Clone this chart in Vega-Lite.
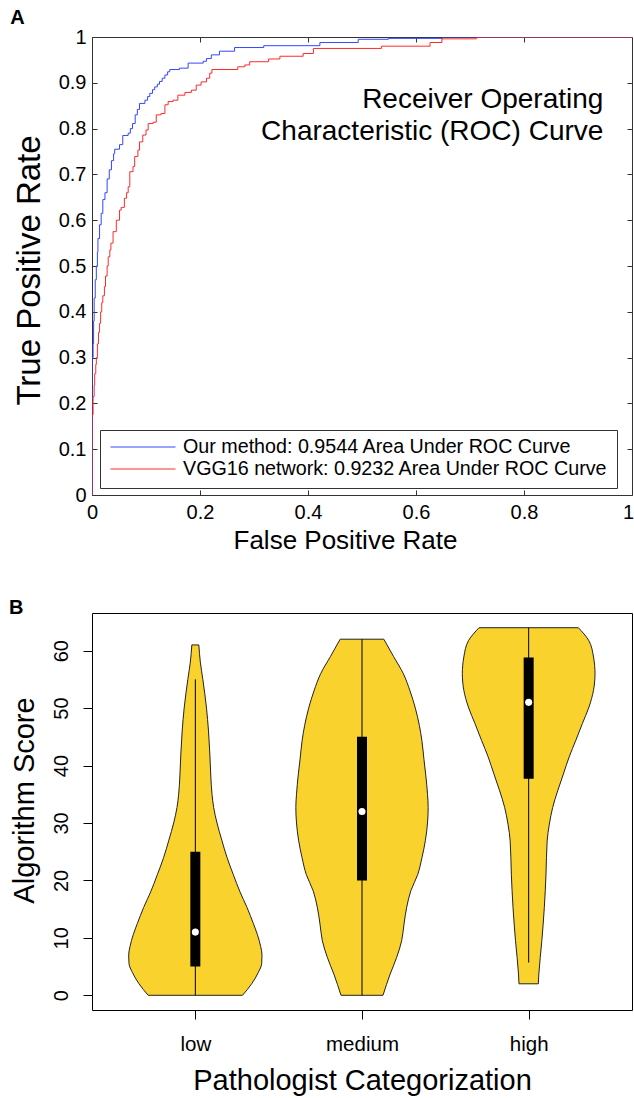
{
  "$schema": "https://vega.github.io/schema/vega-lite/v6.json",
  "autosize": {"type": "pad"},
  "padding": {"left": 8, "top": 7, "right": 0, "bottom": 0},
  "background": "white",
  "config": {
    "font": "Liberation Sans",
    "view": {"stroke": null},
    "axis": {"labelColor": "black", "titleColor": "black", "titleFontWeight": "normal", "grid": false, "labelFont": "Liberation Sans", "titleFont": "Liberation Sans", "labelFlush": false, "labelOverlap": false},
    "title": {"font": "Liberation Sans", "fontWeight": "bold", "fontSize": 20, "anchor": "start", "frame": "bounds", "color": "black"}
  },
  "spacing": 43,
  "vconcat": [
    {
      "width": 540,
      "height": 458,
      "title": {"text": "A", "offset": -1, "dx": -3},
      "view": {"stroke": "#333", "strokeWidth": 1},
      "resolve": {"axis": {"x": "independent", "y": "independent"}},
      "layer": [
        {
          "data": {"values": [
            {"s":"ours","fpr":0,"tpr":0},{"s":"ours","fpr":0,"tpr":0.3},{"s":"ours","fpr":0.002,"tpr":0.33},{"s":"ours","fpr":0.003,"tpr":0.38},{"s":"ours","fpr":0.004,"tpr":0.43},{"s":"ours","fpr":0.006,"tpr":0.47},{"s":"ours","fpr":0.008,"tpr":0.5},{"s":"ours","fpr":0.01,"tpr":0.53},{"s":"ours","fpr":0.011,"tpr":0.56},{"s":"ours","fpr":0.014,"tpr":0.59},{"s":"ours","fpr":0.017,"tpr":0.615},{"s":"ours","fpr":0.02,"tpr":0.645},{"s":"ours","fpr":0.024,"tpr":0.66},{"s":"ours","fpr":0.028,"tpr":0.69},{"s":"ours","fpr":0.032,"tpr":0.71},{"s":"ours","fpr":0.036,"tpr":0.73},{"s":"ours","fpr":0.04,"tpr":0.745},{"s":"ours","fpr":0.042,"tpr":0.755},{"s":"ours","fpr":0.051,"tpr":0.765},{"s":"ours","fpr":0.057,"tpr":0.785},{"s":"ours","fpr":0.067,"tpr":0.79},{"s":"ours","fpr":0.071,"tpr":0.8},{"s":"ours","fpr":0.075,"tpr":0.811},{"s":"ours","fpr":0.08,"tpr":0.83},{"s":"ours","fpr":0.084,"tpr":0.842},{"s":"ours","fpr":0.088,"tpr":0.855},{"s":"ours","fpr":0.098,"tpr":0.862},{"s":"ours","fpr":0.103,"tpr":0.87},{"s":"ours","fpr":0.107,"tpr":0.877},{"s":"ours","fpr":0.112,"tpr":0.885},{"s":"ours","fpr":0.116,"tpr":0.891},{"s":"ours","fpr":0.121,"tpr":0.897},{"s":"ours","fpr":0.125,"tpr":0.903},{"s":"ours","fpr":0.13,"tpr":0.91},{"s":"ours","fpr":0.135,"tpr":0.917},{"s":"ours","fpr":0.14,"tpr":0.924},{"s":"ours","fpr":0.144,"tpr":0.929},{"s":"ours","fpr":0.162,"tpr":0.932},{"s":"ours","fpr":0.178,"tpr":0.943},{"s":"ours","fpr":0.206,"tpr":0.947},{"s":"ours","fpr":0.212,"tpr":0.953},{"s":"ours","fpr":0.221,"tpr":0.961},{"s":"ours","fpr":0.236,"tpr":0.969},{"s":"ours","fpr":0.264,"tpr":0.977},{"s":"ours","fpr":0.318,"tpr":0.981},{"s":"ours","fpr":0.422,"tpr":0.988},{"s":"ours","fpr":0.493,"tpr":0.995},{"s":"ours","fpr":0.549,"tpr":0.997},{"s":"ours","fpr":0.65,"tpr":1},{"s":"ours","fpr":1,"tpr":1},
            {"s":"vgg","fpr":0,"tpr":0},{"s":"vgg","fpr":0,"tpr":0.175},{"s":"vgg","fpr":0.002,"tpr":0.215},{"s":"vgg","fpr":0.004,"tpr":0.24},{"s":"vgg","fpr":0.005,"tpr":0.265},{"s":"vgg","fpr":0.007,"tpr":0.285},{"s":"vgg","fpr":0.008,"tpr":0.3},{"s":"vgg","fpr":0.01,"tpr":0.33},{"s":"vgg","fpr":0.012,"tpr":0.355},{"s":"vgg","fpr":0.014,"tpr":0.375},{"s":"vgg","fpr":0.016,"tpr":0.4},{"s":"vgg","fpr":0.018,"tpr":0.42},{"s":"vgg","fpr":0.02,"tpr":0.435},{"s":"vgg","fpr":0.023,"tpr":0.455},{"s":"vgg","fpr":0.025,"tpr":0.478},{"s":"vgg","fpr":0.028,"tpr":0.5},{"s":"vgg","fpr":0.03,"tpr":0.52},{"s":"vgg","fpr":0.033,"tpr":0.535},{"s":"vgg","fpr":0.035,"tpr":0.55},{"s":"vgg","fpr":0.039,"tpr":0.575},{"s":"vgg","fpr":0.045,"tpr":0.6},{"s":"vgg","fpr":0.051,"tpr":0.622},{"s":"vgg","fpr":0.054,"tpr":0.628},{"s":"vgg","fpr":0.06,"tpr":0.648},{"s":"vgg","fpr":0.064,"tpr":0.66},{"s":"vgg","fpr":0.067,"tpr":0.673},{"s":"vgg","fpr":0.07,"tpr":0.706},{"s":"vgg","fpr":0.076,"tpr":0.717},{"s":"vgg","fpr":0.079,"tpr":0.739},{"s":"vgg","fpr":0.085,"tpr":0.753},{"s":"vgg","fpr":0.088,"tpr":0.771},{"s":"vgg","fpr":0.094,"tpr":0.786},{"s":"vgg","fpr":0.1,"tpr":0.797},{"s":"vgg","fpr":0.104,"tpr":0.811},{"s":"vgg","fpr":0.113,"tpr":0.814},{"s":"vgg","fpr":0.119,"tpr":0.83},{"s":"vgg","fpr":0.128,"tpr":0.833},{"s":"vgg","fpr":0.135,"tpr":0.852},{"s":"vgg","fpr":0.141,"tpr":0.859},{"s":"vgg","fpr":0.15,"tpr":0.862},{"s":"vgg","fpr":0.159,"tpr":0.873},{"s":"vgg","fpr":0.172,"tpr":0.879},{"s":"vgg","fpr":0.184,"tpr":0.884},{"s":"vgg","fpr":0.193,"tpr":0.895},{"s":"vgg","fpr":0.202,"tpr":0.902},{"s":"vgg","fpr":0.212,"tpr":0.91},{"s":"vgg","fpr":0.218,"tpr":0.921},{"s":"vgg","fpr":0.222,"tpr":0.929},{"s":"vgg","fpr":0.27,"tpr":0.935},{"s":"vgg","fpr":0.283,"tpr":0.939},{"s":"vgg","fpr":0.292,"tpr":0.946},{"s":"vgg","fpr":0.327,"tpr":0.952},{"s":"vgg","fpr":0.348,"tpr":0.958},{"s":"vgg","fpr":0.391,"tpr":0.964},{"s":"vgg","fpr":0.41,"tpr":0.975},{"s":"vgg","fpr":0.536,"tpr":0.98},{"s":"vgg","fpr":0.626,"tpr":0.988},{"s":"vgg","fpr":0.648,"tpr":0.996},{"s":"vgg","fpr":0.712,"tpr":1},{"s":"vgg","fpr":1,"tpr":1}
          ]},
          "mark": {"type": "line", "interpolate": "step-after", "strokeWidth": 1, "clip": true},
          "encoding": {
            "x": {"field": "fpr", "type": "quantitative", "title": "False Positive Rate",
              "scale": {"domain": [0, 1], "nice": false, "zero": false},
              "axis": {"values": [0, 0.2, 0.4, 0.6, 0.8, 1], "format": "~g", "tickSize": -5, "tickColor": "#333", "labelPadding": 12, "labelOffset": {"expr": "datum.value == 1 ? -4 : 0"}, "domain": false, "labelFontSize": 20, "titleFontSize": 26, "titlePadding": 5, "titleX": 253}},
            "y": {"field": "tpr", "type": "quantitative", "title": "True Positive Rate",
              "scale": {"domain": [0, 1], "nice": false, "zero": false},
              "axis": {"values": [0, 0.1, 0.2, 0.3, 0.4, 0.5, 0.6, 0.7, 0.8, 0.9, 1], "format": "~g", "tickSize": -5, "tickColor": "#333", "labelPadding": 11, "domain": false, "labelFontSize": 20, "titleFontSize": 33, "titlePadding": 12, "titleY": 233}},
            "color": {"field": "s", "type": "nominal",
              "scale": {"domain": ["ours", "vgg"], "range": ["#3347ff", "#ff2a2a"]},
              "legend": {"title": null, "orient": "none", "legendX": 8, "legendY": 393, "strokeColor": "#333", "fillColor": "white", "padding": 9, "symbolType": "stroke", "symbolSize": 4225, "symbolStrokeWidth": 1, "symbolOffset": 1, "labelOffset": 7, "labelFontSize": 19.7, "labelColor": "black", "clipHeight": 16, "rowPadding": 2, "labelLimit": 700,
                "labelExpr": "datum.label == 'ours' ? 'Our method: 0.9544 Area Under ROC Curve' : 'VGG16 network: 0.9232 Area Under ROC Curve'"}}
          }
        },
        {
          "data": {"values": [
            {"fpr": 0.947, "tpr": 0.844, "label": "Receiver Operating"},
            {"fpr": 0.947, "tpr": 0.775, "label": "Characteristic (ROC) Curve"}
          ]},
          "mark": {"type": "text", "align": "right", "baseline": "alphabetic", "fontSize": 28, "font": "Liberation Sans", "color": "black"},
          "encoding": {
            "x": {"field": "fpr", "type": "quantitative", "title": null,
              "axis": {"orient": "top", "labels": false, "domain": false, "tickSize": -5, "tickColor": "#333", "values": [0.2, 0.4, 0.6, 0.8]}},
            "y": {"field": "tpr", "type": "quantitative", "title": null,
              "axis": {"orient": "right", "labels": false, "domain": false, "tickSize": -5, "tickColor": "#333", "values": [0.1, 0.2, 0.3, 0.4, 0.5, 0.6, 0.7, 0.8, 0.9]}},
            "text": {"field": "label"}
          }
        }
      ]
    },
    {
      "width": 540,
      "height": 397,
      "title": {"text": "B", "offset": -5, "dx": -1},
      "view": {"stroke": "black", "strokeWidth": 1},
      "layer": [
        {
          "data": {"values": [
            {"cat":"low","score":61,"left":0.979,"right":1.021},{"cat":"low","score":58,"left":0.97,"right":1.03},{"cat":"low","score":55,"left":0.955,"right":1.045},{"cat":"low","score":50,"left":0.933,"right":1.067},{"cat":"low","score":46,"left":0.921,"right":1.079},{"cat":"low","score":42,"left":0.913,"right":1.087},{"cat":"low","score":38,"left":0.907,"right":1.093},{"cat":"low","score":35,"left":0.9,"right":1.1},{"cat":"low","score":32.7,"left":0.89,"right":1.11},{"cat":"low","score":30,"left":0.87,"right":1.13},{"cat":"low","score":27,"left":0.841,"right":1.159},{"cat":"low","score":24,"left":0.81,"right":1.19},{"cat":"low","score":21,"left":0.772,"right":1.228},{"cat":"low","score":18,"left":0.732,"right":1.268},{"cat":"low","score":15.3,"left":0.69,"right":1.31},{"cat":"low","score":12.5,"left":0.652,"right":1.348},{"cat":"low","score":10.6,"left":0.628,"right":1.372},{"cat":"low","score":8.5,"left":0.608,"right":1.392},{"cat":"low","score":7,"left":0.6,"right":1.4},{"cat":"low","score":5.5,"left":0.602,"right":1.398},{"cat":"low","score":4,"left":0.622,"right":1.378},{"cat":"low","score":2,"left":0.662,"right":1.338},{"cat":"low","score":0,"left":0.717,"right":1.283},
            {"cat":"medium","score":62,"left":1.869,"right":2.131},{"cat":"medium","score":59,"left":1.811,"right":2.189},{"cat":"medium","score":56,"left":1.752,"right":2.248},{"cat":"medium","score":53,"left":1.712,"right":2.288},{"cat":"medium","score":50,"left":1.68,"right":2.32},{"cat":"medium","score":47,"left":1.656,"right":2.344},{"cat":"medium","score":44.4,"left":1.641,"right":2.359},{"cat":"medium","score":41,"left":1.628,"right":2.372},{"cat":"medium","score":38.5,"left":1.618,"right":2.382},{"cat":"medium","score":35,"left":1.607,"right":2.393},{"cat":"medium","score":32.7,"left":1.603,"right":2.397},{"cat":"medium","score":30,"left":1.607,"right":2.393},{"cat":"medium","score":26.9,"left":1.62,"right":2.38},{"cat":"medium","score":24,"left":1.64,"right":2.36},{"cat":"medium","score":21,"left":1.666,"right":2.334},{"cat":"medium","score":18.2,"left":1.707,"right":2.293},{"cat":"medium","score":15.3,"left":1.732,"right":2.268},{"cat":"medium","score":12.4,"left":1.748,"right":2.252},{"cat":"medium","score":9.5,"left":1.762,"right":2.238},{"cat":"medium","score":6.6,"left":1.792,"right":2.208},{"cat":"medium","score":3.7,"left":1.831,"right":2.169},{"cat":"medium","score":0,"left":1.874,"right":2.126},
            {"cat":"high","score":64,"left":2.702,"right":3.298},{"cat":"high","score":61.8,"left":2.64,"right":3.36},{"cat":"high","score":58.9,"left":2.611,"right":3.389},{"cat":"high","score":56,"left":2.602,"right":3.398},{"cat":"high","score":53.1,"left":2.611,"right":3.389},{"cat":"high","score":50.2,"left":2.638,"right":3.362},{"cat":"high","score":47.3,"left":2.678,"right":3.322},{"cat":"high","score":44.4,"left":2.717,"right":3.283},{"cat":"high","score":41.5,"left":2.757,"right":3.243},{"cat":"high","score":38.5,"left":2.792,"right":3.208},{"cat":"high","score":35.6,"left":2.826,"right":3.174},{"cat":"high","score":32.7,"left":2.856,"right":3.144},{"cat":"high","score":29.8,"left":2.876,"right":3.124},{"cat":"high","score":26.9,"left":2.889,"right":3.111},{"cat":"high","score":21.1,"left":2.896,"right":3.104},{"cat":"high","score":15.3,"left":2.906,"right":3.094},{"cat":"high","score":9.5,"left":2.921,"right":3.079},{"cat":"high","score":3.7,"left":2.939,"right":3.061},{"cat":"high","score":2,"left":2.942,"right":3.058}
          ]},
          "mark": {"type": "area", "orient": "horizontal", "interpolate": "monotone", "fill": "#F9D22D", "stroke": "#222", "strokeWidth": 1, "opacity": 1},
          "encoding": {
            "y": {"field": "score", "type": "quantitative", "title": "Algorithm Score",
              "scale": {"domain": [-2.56, 66.56], "nice": false, "zero": false},
              "axis": {"values": [0, 10, 20, 30, 40, 50, 60], "labelAngle": 270, "tickSize": 9, "tickColor": "black", "labelPadding": 12, "labelFontSize": 20, "titleFontSize": 29, "domain": false, "titlePadding": 12, "titleY": 187}},
            "x": {"field": "left", "type": "quantitative", "title": "Pathologist Categorization",
              "scale": {"domain": [0.38, 3.62], "nice": false, "zero": false},
              "axis": {"values": [1, 2, 3], "labelExpr": "datum.value == 1 ? 'low' : datum.value == 2 ? 'medium' : 'high'", "tickSize": 9, "tickColor": "black", "labelPadding": 15, "labelFontSize": 20.5, "titleFontSize": 29, "domain": false, "titlePadding": 12}},
            "x2": {"field": "right"},
            "detail": {"field": "cat", "type": "nominal"}
          }
        },
        {
          "data": {"name": "stats", "values": [
            {"cat":"low","pos":1,"q1":5,"q3":25,"med":11,"wlo":0,"whi":55},
            {"cat":"medium","pos":2,"q1":20,"q3":45,"med":32,"wlo":0,"whi":62},
            {"cat":"high","pos":3,"q1":37.7,"q3":58.8,"med":51,"wlo":5.7,"whi":64}
          ]},
          "mark": {"type": "rule", "color": "black", "strokeWidth": 1},
          "encoding": {
            "x": {"field": "pos", "type": "quantitative", "title": "Pathologist Categorization"},
            "y": {"field": "wlo", "type": "quantitative", "title": "Algorithm Score"},
            "y2": {"field": "whi"}
          }
        },
        {
          "data": {"name": "stats"},
          "mark": {"type": "rule", "color": "black", "strokeWidth": 10, "strokeCap": "butt"},
          "encoding": {
            "x": {"field": "pos", "type": "quantitative", "title": "Pathologist Categorization"},
            "y": {"field": "q1", "type": "quantitative", "title": "Algorithm Score"},
            "y2": {"field": "q3"}
          }
        },
        {
          "data": {"name": "stats"},
          "mark": {"type": "point", "filled": true, "color": "white", "size": 50, "opacity": 1, "shape": "circle"},
          "encoding": {
            "x": {"field": "pos", "type": "quantitative", "title": "Pathologist Categorization"},
            "y": {"field": "med", "type": "quantitative", "title": "Algorithm Score"}
          }
        }
      ]
    }
  ]
}
